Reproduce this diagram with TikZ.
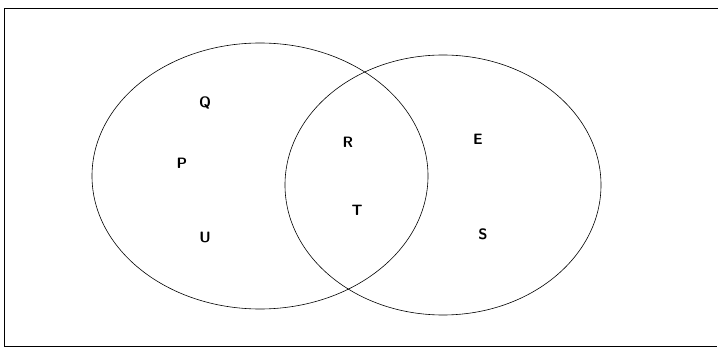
\documentclass[tikz,border=0pt]{standalone}
\usepackage{tikz}
\usetikzlibrary{shapes.geometric}

\begin{document}
\begin{tikzpicture}[
      x=1pt,y=-1pt,
      set/.style={ellipse,draw,line width=0.6pt,inner sep=0pt},
      elem/.style={font=\sffamily\bfseries\fontsize{15}{15}\selectfont,inner sep=0pt},
      frame/.style={line width=0.8pt}
    ]
    \useasboundingbox (0,0) rectangle (718,347);
    \draw[frame] (718,8) -- (4,8) -- (4,347);
    \draw[frame] (4,346) -- (717,346);
    \node[set,minimum width=336pt,minimum height=266pt] (setA) at (260,176) {};
    \node[set,minimum width=316pt,minimum height=260pt] (setB) at (443,185) {};
    \foreach \lbl/\x/\y in {Q/205/103,P/182/163,U/205/237,R/348/142,T/357/210,E/478/139,S/483/234}{
      \node[elem] (\lbl) at (\x,\y) {\lbl};
    }
\end{tikzpicture}
\end{document}
